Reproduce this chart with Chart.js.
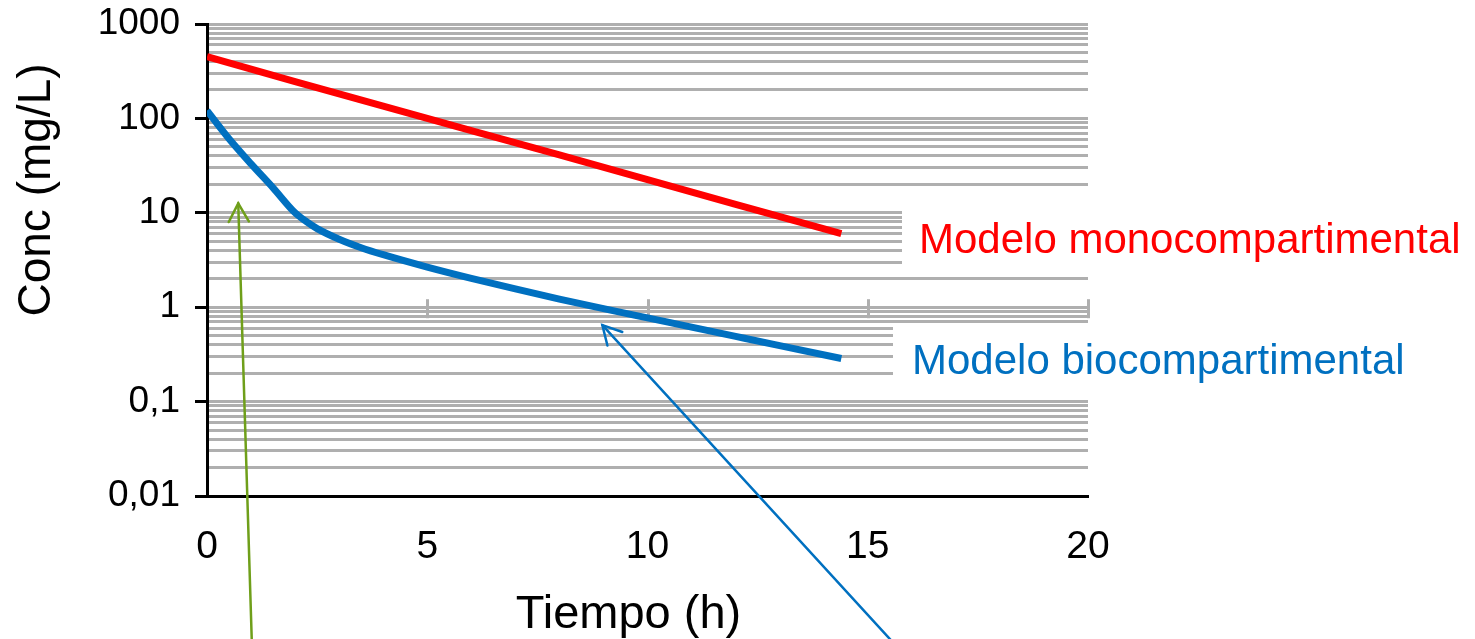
<!DOCTYPE html>
<html>
<head>
<meta charset="utf-8">
<script src="https://cdn.jsdelivr.net/npm/chart.js@4.4.1/dist/chart.umd.min.js"></script>
<style>
html,body{margin:0;padding:0;background:#fff;}
#wrap{width:1475px;height:639px;position:relative;}
</style>
</head>
<body>
<div id="wrap"><canvas id="c"></canvas></div>
<script>
// ---- data ----
const timeMono = [0, 2, 4, 6, 8, 10, 12, 14.4];
const concMono = [450, 245, 135, 74, 41, 22.5, 12.3, 6.0];

const timeBio = [0, 0.5, 1, 1.5, 2, 2.25, 2.5, 3, 3.5, 4, 5, 6, 7, 8, 9, 10, 11, 12, 13, 14.4];
const concBio = [121, 61, 33, 18.4, 10.0, 8.1, 6.8, 5.25, 4.27, 3.6, 2.66, 2.02, 1.56, 1.22, 0.966, 0.771, 0.615, 0.491, 0.392, 0.286];

const seriesNames = ['Modelo monocompartimental', 'Modelo biocompartimental'];
const yTickValues = [0.01, 0.1, 1, 10, 100, 1000];
const yTickLabels = ['0,01', '0,1', '1', '10', '100', '1000'];
const xTickValues = [0, 5, 10, 15, 20];
const xTickLabels = ['0', '5', '10', '15', '20'];
const gridMultipliers = [1, 2, 3, 4, 5, 6, 7, 8, 9];
const axisTitles = { x: 'Tiempo (h)', y: 'Conc (mg/L)' };

// annotation arrows in data units (tail -> tip)
const arrows = [
  { from: [1.02, 0.00026], to: [0.709, 12.6], color: '#6f9f1a' },
  { from: [15.64, 0.00026], to: [8.976, 0.645], color: '#0070c0' }
];

// ---- derived ----
const gridValues = [];
for (let i = 0; i < yTickValues.length - 1; i++) {
  for (const m of gridMultipliers) gridValues.push(Number((yTickValues[i] * m).toPrecision(6)));
}
gridValues.push(yTickValues[yTickValues.length - 1]);

function decadeIndex(v) {
  return yTickValues.findIndex(d => Math.abs(d - v) / d < 1e-6);
}

const RED = '#ff0000', BLUE = '#0070c0', GRID = '#afafaf';

const overlay = {
  id: 'overlay',
  beforeDatasetsDraw(chart) {
    const { ctx, scales: { x, y } } = chart;
    ctx.save();
    // small gray ticks on the "1" gridline
    ctx.strokeStyle = GRID;
    ctx.lineWidth = 3;
    const y1 = y.getPixelForValue(1);
    for (const t of xTickValues.slice(1)) {
      const px = Math.round(x.getPixelForValue(t)) + 0.5;
      ctx.beginPath();
      ctx.moveTo(px, y1 - 8);
      ctx.lineTo(px, y1 + 11);
      ctx.stroke();
    }
    // white backgrounds behind the series labels
    ctx.fillStyle = '#ffffff';
    ctx.fillRect(902, 200, 1475 - 902, 70);
    ctx.fillRect(893, 324, 1475 - 893, 69);
    ctx.restore();
  },
  afterDraw(chart) {
    const { ctx, scales: { x, y } } = chart;
    ctx.save();
    // series labels
    ctx.font = '42px "Liberation Sans", Arial, sans-serif';
    ctx.textAlign = 'left';
    ctx.textBaseline = 'alphabetic';
    ctx.fillStyle = RED;
    ctx.fillText(seriesNames[0], 919, 253);
    ctx.fillStyle = BLUE;
    ctx.fillText(seriesNames[1], 912, 374);
    // axis titles
    ctx.fillStyle = '#000';
    ctx.font = '47px "Liberation Sans", Arial, sans-serif';
    ctx.textAlign = 'center';
    ctx.fillText(axisTitles.x, 628.5, 628);
    ctx.save();
    ctx.translate(50, 190);
    ctx.rotate(-Math.PI / 2);
    ctx.font = '46px "Liberation Sans", Arial, sans-serif';
    ctx.fillText(axisTitles.y, 0, 0);
    ctx.restore();
    // arrows
    for (const a of arrows) {
      const x0 = x.getPixelForValue(a.from[0]), y0 = y.getPixelForValue(a.from[1]);
      const x1 = x.getPixelForValue(a.to[0]), y1 = y.getPixelForValue(a.to[1]);
      const ang = Math.atan2(y1 - y0, x1 - x0);
      ctx.strokeStyle = a.color;
      ctx.lineWidth = 2.5;
      ctx.lineCap = 'round';
      ctx.beginPath();
      ctx.moveTo(x0, y0);
      ctx.lineTo(x1, y1);
      ctx.stroke();
      const L = 21, w = 0.5;
      ctx.beginPath();
      ctx.moveTo(x1 - L * Math.cos(ang - w), y1 - L * Math.sin(ang - w));
      ctx.lineTo(x1, y1);
      ctx.lineTo(x1 - L * Math.cos(ang + w), y1 - L * Math.sin(ang + w));
      ctx.stroke();
    }
    ctx.restore();
  }
};

new Chart(document.getElementById('c'), {
  type: 'line',
  data: {
    datasets: [
      {
        label: seriesNames[0],
        data: timeMono.map((t, i) => ({ x: t, y: concMono[i] })),
        borderColor: RED,
        borderWidth: 7,
        pointRadius: 0,
        tension: 0,
        borderCapStyle: 'butt'
      },
      {
        label: seriesNames[1],
        data: timeBio.map((t, i) => ({ x: t, y: concBio[i] })),
        borderColor: BLUE,
        borderWidth: 7,
        pointRadius: 0,
        cubicInterpolationMode: 'monotone',
        borderCapStyle: 'butt'
      }
    ]
  },
  options: {
    responsive: true,
    maintainAspectRatio: false,
    animation: false,
    devicePixelRatio: 1,
    layout: { padding: { left: 0, top: 24, right: 387, bottom: 0 } },
    plugins: { legend: { display: false }, tooltip: { enabled: false } },
    scales: {
      x: {
        type: 'linear',
        min: 0,
        max: 20,
        afterFit: s => { s.height = 143; s.paddingLeft = 0; s.paddingRight = 0; },
        afterBuildTicks: s => { s.ticks = xTickValues.map(v => ({ value: v })); },
        grid: { display: false, drawTicks: false },
        border: { display: true, color: '#000', width: 3 },
        ticks: {
          autoSkip: false,
          maxRotation: 0,
          padding: 28,
          color: '#000',
          font: { family: '"Liberation Sans Narrow", "Liberation Sans", Arial, sans-serif', size: 39 },
          callback: (v) => { const i = xTickValues.indexOf(v); return i >= 0 ? xTickLabels[i] : ''; }
        }
      },
      y: {
        type: 'logarithmic',
        min: 0.01,
        max: 1000,
        afterFit: s => { s.width = 207; s.paddingTop = 0; s.paddingBottom = 0; },
        afterBuildTicks: s => { s.ticks = gridValues.map(v => ({ value: v })); },
        grid: {
          color: GRID,
          lineWidth: 3,
          drawTicks: true,
          tickLength: 12,
          tickWidth: 3,
          tickColor: c => (c.tick && decadeIndex(c.tick.value) >= 0) ? '#000' : 'rgba(0,0,0,0)'
        },
        border: { display: true, color: '#000', width: 3 },
        ticks: {
          autoSkip: false,
          padding: 15,
          color: '#000',
          font: { family: '"Liberation Sans", Arial, sans-serif', size: 37 },
          callback: (v) => { const i = decadeIndex(v); return i >= 0 ? yTickLabels[i] : ''; }
        }
      }
    }
  },
  plugins: [overlay]
});
</script>
</body>
</html>
